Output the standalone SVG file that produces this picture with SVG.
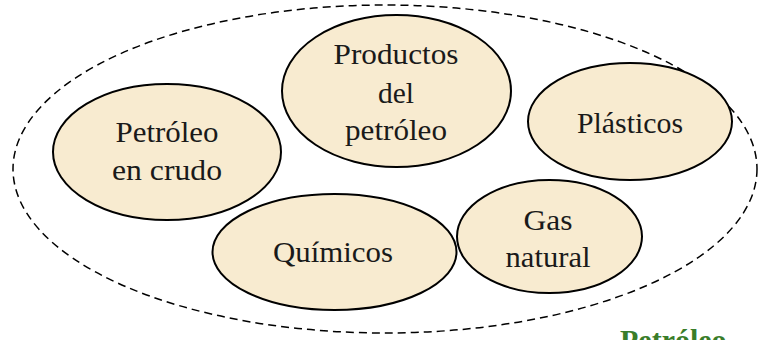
<svg xmlns="http://www.w3.org/2000/svg" width="759" height="340" viewBox="0 0 759 340">
<defs>
<style>
.node{fill:#f8ebd0;stroke:#000;stroke-width:2}
.lbl{font-family:"Liberation Serif","Times New Roman",serif;font-size:29px;fill:#1a1a1a;text-anchor:middle}
.outer{fill:none;stroke:#000;stroke-width:1.5;stroke-dasharray:8 5}
.title{font-family:"Liberation Serif","Times New Roman",serif;font-size:30px;font-weight:bold;fill:#3a7d2a}
</style>
</defs>
<rect width="759" height="340" fill="#fff"/>
<g id="grupo">
<ellipse class="outer" cx="385" cy="169" rx="372" ry="164"/>
</g>
<g id="connectors"></g>
<g id="n-petroleo-crudo">
<ellipse class="node" cx="167" cy="152" rx="114" ry="68"/>
<text class="lbl" x="167" y="142" textLength="103" lengthAdjust="spacingAndGlyphs">Petróleo</text>
<text class="lbl" x="167" y="180" textLength="110" lengthAdjust="spacingAndGlyphs">en crudo</text>
</g>
<g id="n-productos">
<ellipse class="node" cx="396.5" cy="91" rx="114.5" ry="76"/>
<text class="lbl" x="396" y="64" textLength="125" lengthAdjust="spacingAndGlyphs">Productos</text>
<text class="lbl" x="396" y="103" textLength="36" lengthAdjust="spacingAndGlyphs">del</text>
<text class="lbl" x="396" y="140" textLength="102" lengthAdjust="spacingAndGlyphs">petróleo</text>
</g>
<g id="n-plasticos">
<ellipse class="node" cx="630" cy="121.5" rx="102" ry="58.5"/>
<text class="lbl" x="630" y="133" textLength="106" lengthAdjust="spacingAndGlyphs">Plásticos</text>
</g>
<g id="n-quimicos">
<ellipse class="node" cx="334.5" cy="252" rx="122" ry="58"/>
<text class="lbl" x="333" y="262" textLength="120" lengthAdjust="spacingAndGlyphs">Químicos</text>
</g>
<g id="n-gas">
<ellipse class="node" cx="549.5" cy="236.5" rx="92.5" ry="56.5"/>
<text class="lbl" x="548" y="230" textLength="49" lengthAdjust="spacingAndGlyphs">Gas</text>
<text class="lbl" x="548" y="267" textLength="85" lengthAdjust="spacingAndGlyphs">natural</text>
</g>
<text class="title" x="620" y="350">Petróleo</text>
</svg>
